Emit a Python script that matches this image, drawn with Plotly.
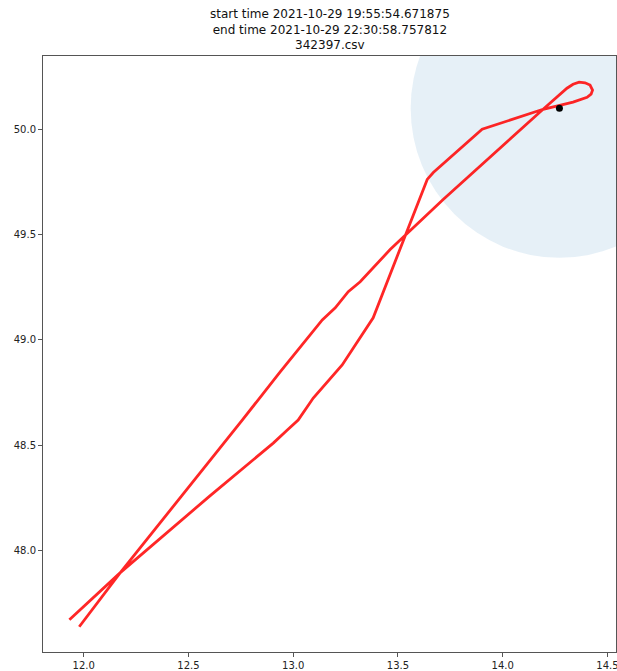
import plotly.graph_objects as go

# Flight track (longitude / latitude)
lon = [11.932, 12.175, 12.600, 12.905, 12.967, 13.024, 13.096, 13.234, 13.382,
       13.535, 13.640, 13.669, 13.902, 14.193, 14.336, 14.403, 14.422, 14.429,
       14.417, 14.393, 14.365, 14.336, 14.307, 14.193, 13.716, 13.463, 13.320,
       13.263, 13.201, 13.139, 12.938, 12.757, 12.175, 11.979]
lat = [47.671, 47.895, 48.257, 48.510, 48.567, 48.619, 48.724, 48.881, 49.105,
       49.490, 49.762, 49.795, 50.000, 50.095, 50.129, 50.152, 50.167, 50.186,
       50.210, 50.221, 50.224, 50.214, 50.195, 50.095, 49.667, 49.429, 49.276,
       49.229, 49.152, 49.095, 48.848, 48.619, 47.895, 47.638]

# Reference point and its surrounding radius (degrees)
ref_lon = [14.271]
ref_lat = [50.10]
radius = 0.71

title_lines = ["start time 2021-10-29 19:55:54.671875",
               "end time 2021-10-29 22:30:58.757812",
               "342397.csv"]

x_ticks = [12.0, 12.5, 13.0, 13.5, 14.0, 14.5]
y_ticks = [48.0, 48.5, 49.0, 49.5, 50.0]

fig = go.Figure()

fig.add_shape(type="circle", xref="x", yref="y",
              x0=ref_lon[0] - radius, x1=ref_lon[0] + radius,
              y0=ref_lat[0] - radius, y1=ref_lat[0] + radius,
              fillcolor="rgba(31,119,180,0.11)", line=dict(width=0), layer="below")

fig.add_trace(go.Scatter(x=lon, y=lat, mode="lines",
                         line=dict(color="rgba(255,0,0,0.85)", width=2.8),
                         hoverinfo="skip", showlegend=False))

fig.add_trace(go.Scatter(x=ref_lon, y=ref_lat, mode="markers",
                         marker=dict(color="black", size=7),
                         hoverinfo="skip", showlegend=False))

axis_common = dict(showgrid=False, zeroline=False, showline=True, mirror=True,
                   linecolor="#555", linewidth=1, ticks="outside", ticklen=4,
                   tickcolor="#555", ticklabeloverflow="allow", automargin=False,
                   tickfont=dict(family="DejaVu Sans", size=10, color="#222"))

fig.update_xaxes(range=[11.806, 14.541], tickvals=x_ticks,
                 ticktext=[f"{v:.1f}" for v in x_ticks], **axis_common)
fig.update_yaxes(range=[47.518, 50.348], tickvals=y_ticks,
                 ticktext=[f"{v:.1f}" for v in y_ticks], **axis_common)

fig.add_annotation(text="<br>".join(title_lines), xref="paper", yref="paper",
                   x=0.5, y=1, xanchor="center", yanchor="bottom", yshift=2,
                   showarrow=False, align="center",
                   font=dict(family="DejaVu Sans", size=12, color="#111"))

fig.update_layout(width=617, height=671,
                  margin=dict(l=43, r=1, t=56, b=19),
                  paper_bgcolor="white", plot_bgcolor="white")

fig.write_html("out.html", config={"displayModeBar": False})
